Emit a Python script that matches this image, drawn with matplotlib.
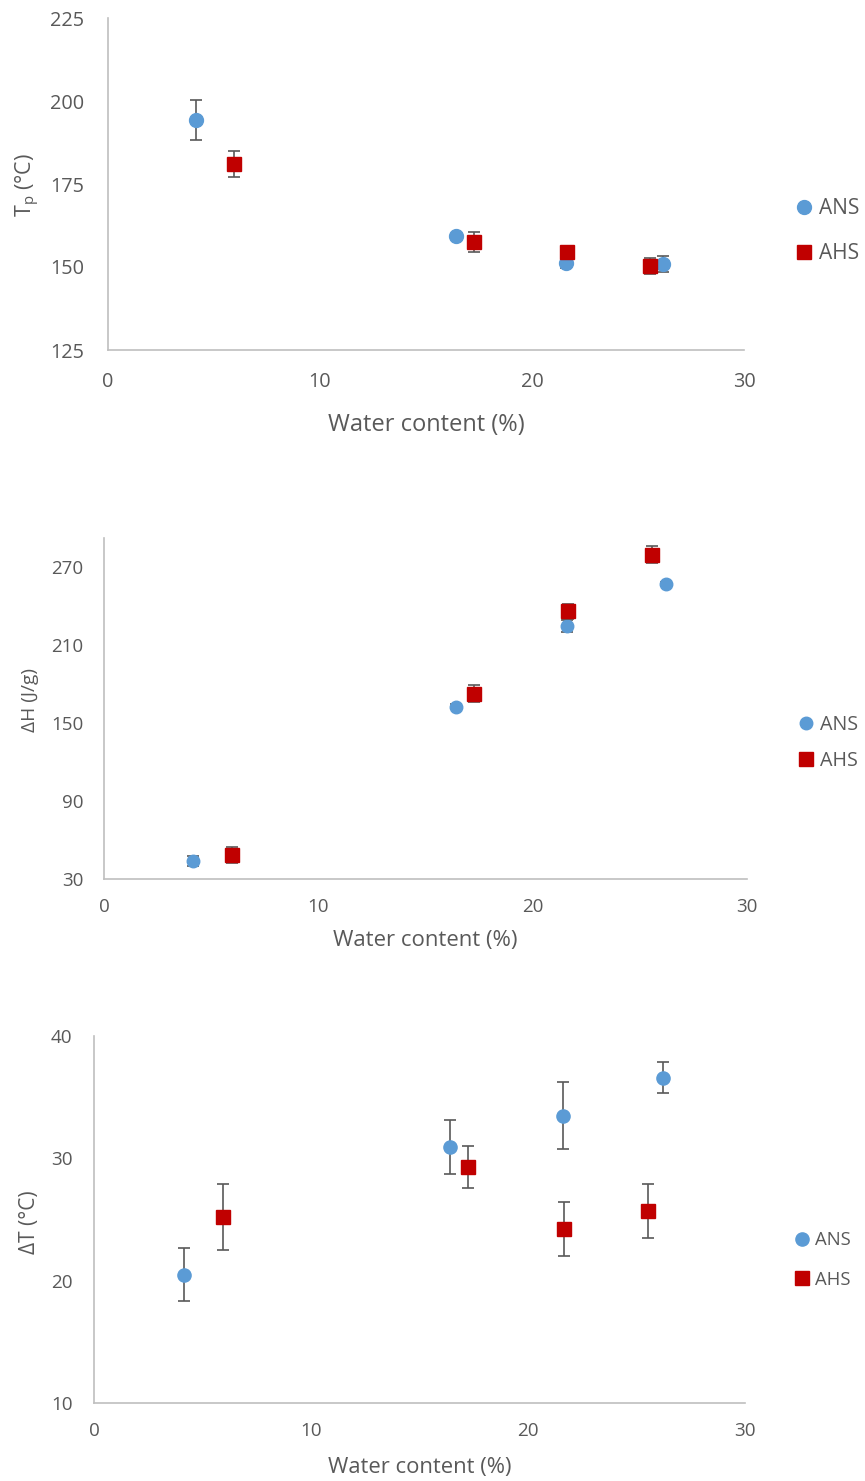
import numpy as np
import matplotlib
matplotlib.use("Agg")
import matplotlib.pyplot as plt

plt.rcParams['font.family'] = ['Open Sans', 'DejaVu Sans']

W, H = 865, 1481

# Water content (%) for each sample
ans_water = [4.15, 16.4, 21.6, 26.2]
ahs_water = [5.95, 17.25, 21.65, 25.55]

# Peak temperature Tp (°C)
ans_tp = [194.3, 159.2, 151.3, 150.8]
ans_tp_err = [6.0, 0.6, 1.6, 2.4]
ahs_tp = [181.0, 157.4, 154.4, 150.2]
ahs_tp_err = [3.9, 3.0, 1.0, 2.4]

# Enthalpy ΔH (J/g)
ans_dh = [43.8, 162.3, 224.1, 256.9]
ans_dh_err = [4.0, 2.0, 4.7, 1.5]
ahs_dh = [48.5, 172.5, 235.6, 279.2]
ahs_dh_err = [6.0, 6.3, 5.5, 6.4]

# Temperature range ΔT (°C)
ans_dt = [20.5, 30.9, 33.5, 36.6]
ans_dt_err = [2.2, 2.2, 2.7, 1.3]
ahs_dt = [25.2, 29.3, 24.2, 25.7]
ahs_dt_err = [2.7, 1.7, 2.2, 2.2]

x_ticks = [0, 10, 20, 30]
series_names = ['ANS', 'AHS']

BLUE = '#5B9BD5'
RED = '#C00000'
GRAY = '#595959'
AXIS = '#BFBFBF'


def px_box(left, top, right, bottom):
    return [left / W, 1 - bottom / H, (right - left) / W, (bottom - top) / H]


def fx(x):
    return x / W


def fy(y):
    return 1 - y / H


fig = plt.figure(figsize=(W / 100, H / 100), dpi=100)

panels = [
    dict(box=(108, 18, 744, 350), ylim=(125, 225), yticks=[125, 150, 175, 200, 225],
         ans=(ans_tp, ans_tp_err), ahs=(ahs_tp, ahs_tp_err),
         ylabel='T$_\\mathregular{p}$ (°C)', ylab_xy=(28, 185), xlab_xy=(426, 425),
         tick_fs=14.3, ylab_fs=15.5, lab_fs=17, leg_fs=15, leg_xy=(796, 231), leg_sp=1.15,
         ms=(10, 10.5), ypad=17, xpad=15.5),
    dict(box=(104, 538, 747, 879), ylim=(30, 292), yticks=[30, 90, 150, 210, 270],
         ans=(ans_dh, ans_dh_err), ahs=(ahs_dh, ahs_dh_err),
         ylabel='ΔH (J/g)', ylab_xy=(30, 700), xlab_xy=(425, 941),
         tick_fs=13.5, ylab_fs=13.8, lab_fs=15.9, leg_fs=14.2, leg_xy=(798, 743), leg_sp=0.85,
         ms=(9, 10), ypad=15, xpad=13.5),
    dict(box=(94, 1036, 745, 1403), ylim=(10, 40), yticks=[10, 20, 30, 40],
         ans=(ans_dt, ans_dt_err), ahs=(ahs_dt, ahs_dt_err),
         ylabel='ΔT (°C)', ylab_xy=(30, 1222), xlab_xy=(420, 1467),
         tick_fs=13.6, ylab_fs=15, lab_fs=15.8, leg_fs=13.3, leg_xy=(795, 1260), leg_sp=1.15,
         ms=(9.5, 10), ypad=15.5, xpad=14),
]

for p in panels:
    ax = fig.add_axes(px_box(*p['box']))
    ans_y, ans_e = p['ans']
    ahs_y, ahs_e = p['ahs']
    ax.errorbar(ans_water, ans_y, yerr=ans_e, fmt='o', color=BLUE, ms=p['ms'][0],
                ecolor=GRAY, elinewidth=1.2, capsize=4.5, capthick=1.2,
                label=series_names[0], zorder=3)
    ax.errorbar(ahs_water, ahs_y, yerr=ahs_e, fmt='s', color=RED, ms=p['ms'][1],
                ecolor=GRAY, elinewidth=1.2, capsize=4.5, capthick=1.2,
                label=series_names[1], zorder=4)
    ax.set_xlim(0, 30)
    ax.set_ylim(*p['ylim'])
    ax.set_xticks(x_ticks)
    ax.set_yticks(p['yticks'])
    for side in ['top', 'right']:
        ax.spines[side].set_visible(False)
    for side in ['left', 'bottom']:
        ax.spines[side].set_color(AXIS)
        ax.spines[side].set_linewidth(1.2)
    ax.tick_params(axis='y', length=0, pad=p['ypad'], labelsize=p['tick_fs'], labelcolor=GRAY)
    ax.tick_params(axis='x', length=0, pad=p['xpad'], labelsize=p['tick_fs'], labelcolor=GRAY)

    fig.text(fx(p['xlab_xy'][0]), fy(p['xlab_xy'][1]), 'Water content (%)',
             ha='center', va='center', fontsize=p['lab_fs'], color=GRAY)
    fig.text(fx(p['ylab_xy'][0]), fy(p['ylab_xy'][1]), p['ylabel'], rotation=90,
             ha='center', va='center', fontsize=p['ylab_fs'], color=GRAY)

    handles, labels = ax.get_legend_handles_labels()
    handles = [h[0] for h in handles]
    leg = fig.legend(handles, labels, loc='center left',
                     bbox_to_anchor=(fx(p['leg_xy'][0]), fy(p['leg_xy'][1])),
                     frameon=False, fontsize=p['leg_fs'], handlelength=0.8,
                     handletextpad=0.3, labelspacing=p['leg_sp'], borderpad=0,
                     borderaxespad=0)
    for t in leg.get_texts():
        t.set_color(GRAY)

fig.savefig('out.png', dpi=100)
